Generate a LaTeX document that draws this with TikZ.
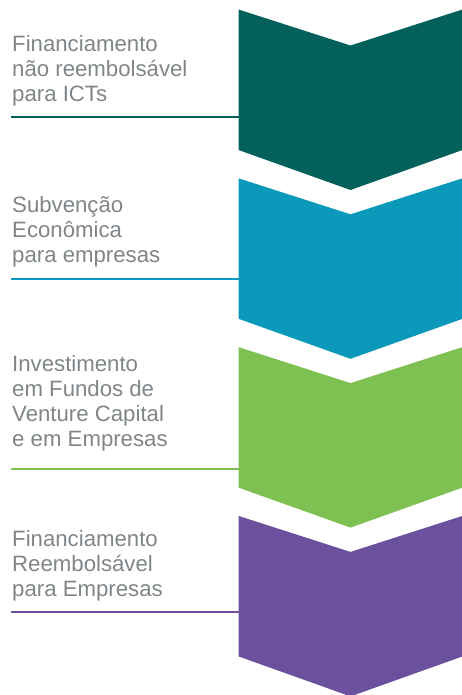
\documentclass[tikz,border=0pt]{standalone}
\usepackage{fontspec}
\setmainfont{Liberation Sans}
\usepackage{xcolor}
\usepackage{tikz}
\usetikzlibrary{positioning, calc}
\definecolor{ictteal}{HTML}{03605B}
\definecolor{subblue}{HTML}{0A99BB}
\definecolor{invgreen}{HTML}{7EC052}
\definecolor{reemb}{HTML}{6A509D}
\definecolor{txtgray}{HTML}{7F8588}
\tikzset{
  lbl/.style={inner sep=0pt, align=left, text=txtgray,
    font=\fontsize{22.2}{25}\selectfont},
  rule/.style={line width=2pt}
}

\begin{document}
\begin{tikzpicture}[x=1pt, y=-1pt]
  \useasboundingbox (0,0) rectangle (461,695);
  \foreach \col/\txt/\b/\ly/\i in {
    ictteal/{Financiamento\\não reembolsável\\para ICTs}/101.7/116.7/0,
    subblue/{Subvenção\\Econômica\\para empresas}/262.3/279.3/1,
    invgreen/{Investimento\\em Fundos de\\Venture Capital\\e em Empresas}/446.7/469.3/2,
    reemb/{Financiamento\\Reembolsável\\para Empresas}/596/611.7/3
  } {
    \pgfmathsetmacro{\t}{9.5+168.8*\i}
    % chevron
    \fill[\col] (238.5,\t) -- (350.5,\t+36) -- (462.5,\t) -- (462.5,\t+140.5)
      -- (350.5,\t+180.5) -- (238.5,\t+140.5) -- cycle;
    \node[lbl, anchor=base west] (txt\i) at (12,\b) {\txt};
    \coordinate (ls\i) at (11,\ly);
    \coordinate (le\i) at (238.5,\ly);
    \draw[\col, rule] (ls\i) -- (le\i);
  }
\end{tikzpicture}
\end{document}
